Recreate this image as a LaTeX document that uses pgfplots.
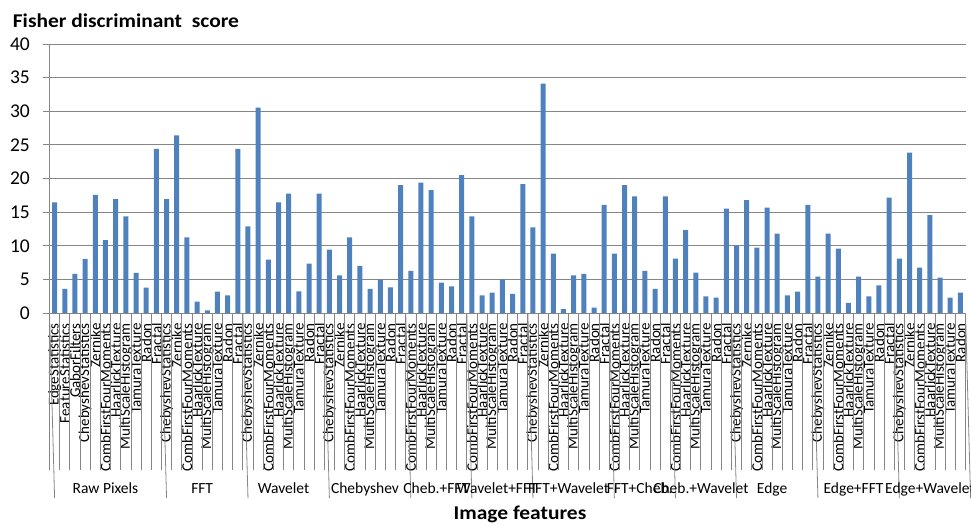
\documentclass[border=0pt]{standalone}
\usepackage{fontspec}
\setmainfont{Carlito}
\newfontfamily\titlefont[FakeStretch=1.1]{Carlito}
\usepackage{pgfplots}
\pgfplotsset{compat=1.18}
\definecolor{barblue}{RGB}{79,129,189}
\definecolor{gridgray}{RGB}{134,134,134}
\begin{document}
\begin{tikzpicture}
\begin{axis}[
  at={(0,0)}, anchor=south west,
  scale only axis, width=916bp, height=269bp,
  xmin=-0.5, xmax=89.5, ymin=0, ymax=40,
  axis x line=bottom, axis y line=left,
  axis line style={-, draw=gridgray, line width=0.8bp},
  ybar, bar width=5bp,
  ytick={0,5,...,40},
  ymajorgrids, major grid style={draw=gridgray, line width=0.8bp},
  tick align=outside, major tick length=6bp,
  y tick style={draw=gridgray, line width=0.8bp},
  x tick style={draw=none},
  /pgf/number format/assume math mode=true,
  yticklabel style={font=\fontsize{19.5bp}{19.5bp}\selectfont, inner sep=0pt, xshift=-13.5bp},
  xtick={0,...,89},
  xticklabels={EdgeStatistics,FeatureStatistics,GaborFilters,ChebyshevStatistics,Zernike,CombFirstFourMoments,HaarlickTexture,MultiScaleHistogram,TamuraTexture,Radon,Fractal,
  ChebyshevStatistics,Zernike,CombFirstFourMoments,HaarlickTexture,MultiScaleHistogram,TamuraTexture,Radon,Fractal,
  ChebyshevStatistics,Zernike,CombFirstFourMoments,HaarlickTexture,MultiScaleHistogram,TamuraTexture,Radon,Fractal,
  ChebyshevStatistics,Zernike,CombFirstFourMoments,HaarlickTexture,MultiScaleHistogram,TamuraTexture,Radon,Fractal,
  CombFirstFourMoments,HaarlickTexture,MultiScaleHistogram,TamuraTexture,Radon,Fractal,
  CombFirstFourMoments,HaarlickTexture,MultiScaleHistogram,TamuraTexture,Radon,Fractal,
  ChebyshevStatistics,Zernike,CombFirstFourMoments,HaarlickTexture,MultiScaleHistogram,TamuraTexture,Radon,Fractal,
  CombFirstFourMoments,HaarlickTexture,MultiScaleHistogram,TamuraTexture,Radon,Fractal,
  CombFirstFourMoments,HaarlickTexture,MultiScaleHistogram,TamuraTexture,Radon,Fractal,
  ChebyshevStatistics,Zernike,CombFirstFourMoments,HaarlickTexture,MultiScaleHistogram,TamuraTexture,Radon,Fractal,
  ChebyshevStatistics,Zernike,CombFirstFourMoments,HaarlickTexture,MultiScaleHistogram,TamuraTexture,Radon,Fractal,
  ChebyshevStatistics,Zernike,CombFirstFourMoments,HaarlickTexture,MultiScaleHistogram,TamuraTexture,Radon},
  xticklabel style={yshift=-4bp, font=\fontsize{15bp}{15bp}\selectfont, rotate=90, anchor=east, inner sep=0pt},
  extra x ticks={-0.5,0.5,...,89.5},
  extra x tick labels={},
  extra x tick style={major tick length=157bp, x tick style={draw=gridgray, line width=0.8bp}, grid=none},
  clip=false,
]
\addplot[fill=barblue, draw=none] coordinates {
(0,16.46) (1,3.57) (2,5.8) (3,8.03) (4,17.55) (5,10.85) (6,16.95) (7,14.37) (8,5.95) (9,3.77) (10,24.39)
(11,16.95) (12,26.42) (13,11.25) (14,1.69) (15,0.4) (16,3.17) (17,2.63) (18,24.39)
(19,12.89) (20,30.53) (21,7.93) (22,16.46) (23,17.74) (24,3.22) (25,7.34) (26,17.74)
(27,9.42) (28,5.6) (29,11.25) (30,6.99) (31,3.57) (32,4.96) (33,3.82) (34,19.03)
(35,6.25) (36,19.38) (37,18.29) (38,4.51) (39,3.97) (40,20.52)
(41,14.37) (42,2.63) (43,3.02) (44,5.0) (45,2.83) (46,19.18)
(47,12.74) (48,34.1) (49,8.82) (50,0.59) (51,5.6) (52,5.8) (53,0.79) (54,16.06)
(55,8.82) (56,19.03) (57,17.35) (58,6.25) (59,3.57) (60,17.35)
(61,8.08) (62,12.34) (63,6.0) (64,2.48) (65,2.28) (66,15.51)
(67,10.01) (68,16.8) (69,9.71) (70,15.66) (71,11.8) (72,2.63) (73,3.17) (74,16.06)
(75,5.4) (76,11.8) (77,9.57) (78,1.49) (79,5.4) (80,2.48) (81,4.11) (82,17.15)
(83,8.08) (84,23.84) (85,6.74) (86,14.57) (87,5.25) (88,2.28) (89,3.02)
};
\foreach \b in {-0.5,10.5,18.5,26.5,34.5,40.5,46.5,54.5,60.5,66.5,74.5,82.5,89.5}{
  \edef\tmp{\noexpand\draw[gridgray, line width=0.8bp] (axis cs:\b,0) -- ++(0,-185bp);}\tmp
}
\foreach \c/\t in {5/Raw Pixels,14.5/FFT,22.5/Wavelet,30.5/Chebyshev,37.5/Cheb.+FFT,43.5/Wavelet+FFT,50.5/FFT+Wavelet,57.5/FFT+Cheb.,63.5/Cheb.+Wavelet,70.5/Edge,78.5/Edge+FFT,86/Edge+Wavelet}{
  \edef\tmp{\noexpand\node[anchor=base, inner sep=0pt, font=\noexpand\fontsize{15.5bp}{15.5bp}\noexpand\selectfont] at (axis cs:\c,0) [yshift=-180bp] {\t};}\tmp
}
\end{axis}
\node[anchor=base west, inner sep=0pt, font=\titlefont\fontsize{19.5bp}{19.5bp}\selectfont\bfseries] at (-36.8bp,285.7bp) {Fisher discriminant\ \ score};
\node[anchor=base, inner sep=0pt, font=\titlefont\fontsize{19.5bp}{19.5bp}\selectfont\bfseries] at (470.5bp,-206bp) {Image features};
\pgfresetboundingbox
\path[use as bounding box] (-49.5bp,-211bp) rectangle (921.5bp,313bp);
\end{tikzpicture}
\end{document}
